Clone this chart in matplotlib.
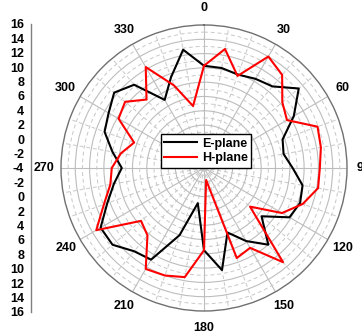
import numpy as np
import matplotlib
matplotlib.use("Agg")
import matplotlib.pyplot as plt

plt.rcParams['font.family'] = ['Liberation Sans', 'DejaVu Sans']

# angles in degrees, 10 degree steps
angles_deg = list(range(0, 360, 10))

# E-plane (black), dB
e_plane = [10.3, 10.2, 9.9, 10.4, 10.9, 13.3, 10.5, 7.7, 7.3, 8.4,
           10.0, 10.3, 9.8, 6.5, 10.0, 7.8, 5.6, 10.5, 7.5, 1.0,
           6.0, 10.8, 11.2, 12.7, 12.7, 10.4, 8.8, 7.5, 9.0, 10.8,
           11.4, 12.4, 11.2, 7.0, 9.5, 12.8]

# H-plane (red)
h_plane = [10.3, 12.9, 9.7, 14.0, 13.0, 10.3, 9.4, 12.9, 12.6, 12.2,
           12.2, 10.7, 8.6, 4.4, 13.2, 8.9, 9.4, -2.3, 7.5, 11.5,
           12.0, 12.3, 8.3, 7.5, 13.4, 10.9, 9.3, 8.9, 7.8, 6.4,
           9.8, 10.4, 8.5, 12.3, 8.3, 4.8]

r_min, r_max = -4, 16
left_scale_labels = ['16', '14', '12', '10', '8', '6', '4', '2', '0', '-2', '-4',
                     '-2', '0', '2', '4', '6', '8', '10', '12', '14', '16']

fig = plt.figure(figsize=(3.62, 3.36), dpi=100)
ax = fig.add_axes([61 / 362, 25 / 336, 286 / 362, 286 / 336], projection='polar')

theta = np.deg2rad(angles_deg + [360])
ax.plot(theta, e_plane + e_plane[:1], color='black', lw=1.5, label='E-plane', zorder=3)
ax.plot(theta, h_plane + h_plane[:1], color='#ff0000', lw=1.5, label='H-plane', zorder=3)

ax.set_theta_zero_location('N')
ax.set_theta_direction(-1)
ax.set_rlim(r_min, r_max)

# grid: solid every 30 deg / 2 dB, dashed in between
ax.set_xticks(np.deg2rad(np.arange(0, 360, 30)))
ax.set_xticklabels([str(a) for a in range(0, 360, 30)], fontsize=9, fontweight='bold')
ax.set_xticks(np.deg2rad([a for a in range(0, 360, 10) if a % 30]), minor=True)
ax.set_yticks(np.arange(-2, 16, 2))
ax.set_yticks(np.arange(-3, 16, 2), minor=True)
ax.set_yticklabels([])
ax.grid(True, which='major', color='#bdbdbd', lw=0.8, ls='-')
ax.grid(True, which='minor', color='#c8c8c8', lw=0.7, ls=(0, (4, 3)))
ax.tick_params(axis='x', which='major', pad=5, length=0)
ax.tick_params(axis='x', which='minor', length=0)
ax.tick_params(axis='y', which='both', length=0)
ax.spines['polar'].set_color('#707070')
ax.spines['polar'].set_linewidth(1.0)

ax.legend(loc='center', bbox_to_anchor=(206 / 362, 1 - 151 / 336),
          bbox_transform=fig.transFigure, prop={'size': 9, 'weight': 'bold'},
          frameon=True, fancybox=False, edgecolor='black', framealpha=1,
          handlelength=2.6, handletextpad=0.4, borderpad=0.3, labelspacing=0.2)

# the left scale bar across the diameter
ax2 = fig.add_axes([31 / 362, 24 / 336, 0.001, 288 / 336])
ax2.set_ylim(len(left_scale_labels) - 1, 0)
ax2.set_yticks(range(len(left_scale_labels)))
ax2.set_yticklabels(left_scale_labels, fontsize=9, fontweight='bold')
ax2.tick_params(axis='y', length=0, pad=5)
ax2.set_xticks([])
for s in ['top', 'right', 'bottom']:
    ax2.spines[s].set_visible(False)
ax2.spines['left'].set_color('#808080')
ax2.spines['left'].set_linewidth(1.0)
ax2.patch.set_visible(False)

fig.savefig('out.png', dpi=100)
